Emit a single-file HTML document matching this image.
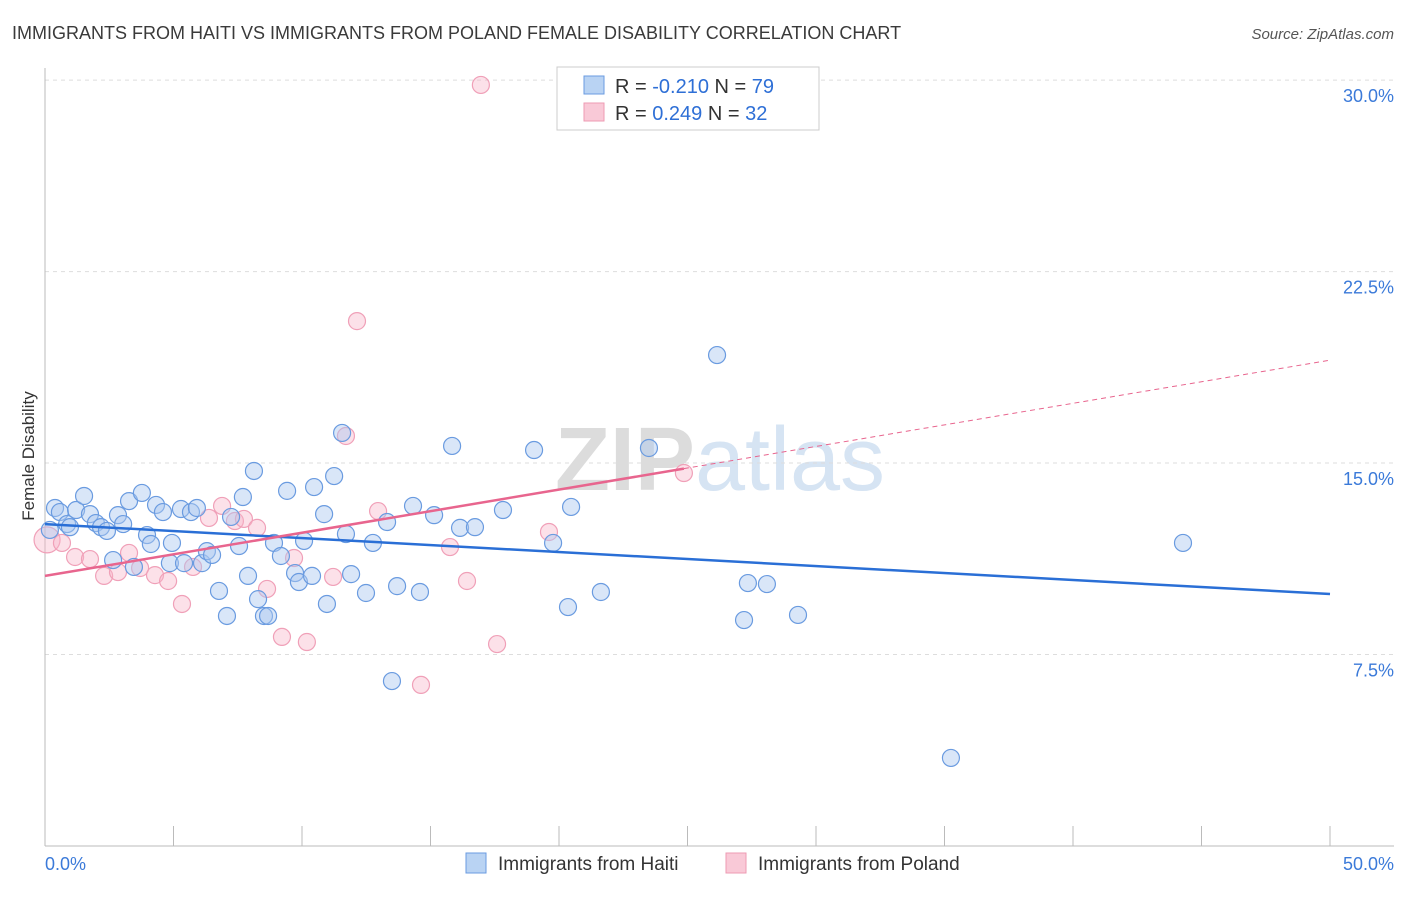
<!DOCTYPE html>
<html><head><meta charset="utf-8"><style>
body{margin:0;background:#fff;font-family:"Liberation Sans",sans-serif}
svg text{font-family:"Liberation Sans",sans-serif}
</style></head><body>
<svg id="c" width="1406" height="892" xmlns="http://www.w3.org/2000/svg">
<text x="12" y="39" font-size="18" fill="#3a3a3a">IMMIGRANTS FROM HAITI VS IMMIGRANTS FROM POLAND FEMALE DISABILITY CORRELATION CHART</text>
<text x="1394" y="39" font-size="15" fill="#555" font-style="italic" text-anchor="end">Source: ZipAtlas.com</text>
<text x="34" y="456" font-size="17" fill="#333" text-anchor="middle" transform="rotate(-90 34 456)">Female Disability</text>
<text x="720" y="490" font-size="90" fill="#e4e4e4" text-anchor="middle" font-family="Liberation Serif"><tspan font-weight="bold" fill="#dcdcdc">ZIP</tspan><tspan fill="#d6e4f3" font-family="Liberation Sans">atlas</tspan></text>
<g id="grid"></g><g id="axes"></g><g id="pts"></g><g id="lines"></g>
<g>
<rect x="557" y="67" width="262" height="63" fill="#fff" stroke="#ccc"/>
<rect x="584" y="76" width="20" height="18" fill="#b9d3f3" stroke="#6a9be0"/>
<rect x="584" y="103" width="20" height="18" fill="#f9c9d7" stroke="#ee9bb3"/>
<text x="615" y="93" font-size="20" fill="#333">R = <tspan fill="#2e6fd6">-0.210</tspan>   N = <tspan fill="#2e6fd6">79</tspan></text>
<text x="615" y="120" font-size="20" fill="#333">R =  <tspan fill="#2e6fd6">0.249</tspan>   N = <tspan fill="#2e6fd6">32</tspan></text>
</g>
<g>
<rect x="466" y="853" width="20" height="20" fill="#b9d3f3" stroke="#6a9be0"/>
<text x="498" y="870" font-size="19" fill="#333">Immigrants from Haiti</text>
<rect x="726" y="853" width="20" height="20" fill="#f9c9d7" stroke="#ee9bb3"/>
<text x="758" y="870" font-size="19" fill="#333">Immigrants from Poland</text>
</g>
</svg>
<script>
const yTicks=[7.5,15.0,22.5,30.0];
const yTickLabels=["7.5%","15.0%","22.5%","30.0%"];
const xTickLabels=["0.0%","50.0%"];
const haitiX=[0.39,0.58,0.86,0.97,1.21,1.52,1.75,1.98,2.18,2.41,2.65,2.84,3.04,3.27,3.46,3.77,3.97,4.12,4.32,4.59,4.94,4.86,5.29,5.41,5.68,5.91,6.11,6.30,6.50,6.77,7.08,7.24,7.55,7.70,7.90,8.13,8.29,8.52,8.68,8.91,9.18,9.42,9.73,9.88,10.08,10.39,10.47,10.86,10.97,11.25,11.56,11.71,11.91,12.49,12.76,13.31,13.50,13.70,14.32,14.59,15.14,15.84,16.15,16.73,17.82,19.03,19.77,20.35,20.47,21.63,23.50,26.15,27.20,27.35,28.09,29.30,35.25,44.28,0.19];
const haitiY=[13.24,13.08,12.61,12.49,13.16,13.71,13.00,12.65,12.49,12.34,11.20,12.96,12.61,13.51,10.93,13.83,12.18,11.83,13.36,13.08,11.87,11.08,13.20,11.08,13.08,13.24,11.08,11.55,11.40,9.99,9.01,12.89,11.75,13.67,10.58,14.69,9.67,9.01,9.01,11.87,11.36,13.91,10.69,10.34,11.95,10.58,14.06,13.00,9.48,14.49,16.18,12.22,10.65,9.91,11.87,12.69,6.46,10.18,13.32,9.95,12.96,15.67,12.46,12.49,13.16,15.51,11.87,9.36,13.28,9.95,15.59,19.23,8.85,10.30,10.26,9.05,3.45,11.87,12.38];
const polandX=[0.08,0.66,1.17,1.75,2.30,2.84,3.27,3.70,4.28,4.79,5.33,5.76,6.38,6.89,7.39,7.74,8.25,8.64,9.22,9.69,10.19,11.21,11.71,12.14,12.96,14.63,15.76,16.42,16.96,17.59,19.61,24.86];
const polandY=[11.99,11.87,11.32,11.24,10.58,10.73,11.48,10.89,10.61,10.38,9.48,10.93,12.85,13.32,12.73,12.81,12.46,10.07,8.19,11.28,7.99,10.54,16.06,20.56,13.12,6.31,11.71,10.38,29.81,7.91,12.30,14.61];
const haitiTrend=[12.61,9.87];
const polandTrend=[10.58,19.03];
const polandSolidEnd=24.86;
const X=v=>45+v/50*1285, Y=v=>846-v*25.53;
const NS="http://www.w3.org/2000/svg";
function mk(p,t,a){const e=document.createElementNS(NS,t);for(const k in a)e.setAttribute(k,a[k]);p.appendChild(e);return e;}
const g=document.getElementById('grid'),ax=document.getElementById('axes'),pts=document.getElementById('pts'),ln=document.getElementById('lines');
yTicks.forEach((t,i)=>{
 const l=mk(g,'line',{x1:45,x2:1394,y1:Y(t),y2:Y(t),stroke:'#ddd','stroke-dasharray':'4,4'});
 
 
 const tx=mk(g,'text',{x:1394,y:Y(t)+22,'font-size':18,fill:'#3b7ad9','text-anchor':'end'});
 tx.textContent=yTickLabels[i];
 
 
});
const a1=mk(ax,'line',{x1:45,x2:45,y1:68,y2:846,stroke:'#bbb'});


const a2=mk(ax,'line',{x1:45,x2:1394,y1:846,y2:846,stroke:'#bbb'});


for(let i=1;i<=10;i++){const t=mk(ax,'line',{x1:X(i*5),x2:X(i*5),y1:826,y2:846,stroke:'#bbb'});
 
 }
[[0,'start',45],[1,'end',1394]].forEach(([i,an,x])=>{const t=mk(ax,'text',{x:x,y:870,'font-size':18,fill:'#3b7ad9','text-anchor':an});t.textContent=xTickLabels[i];
 
 });
polandX.forEach((x,i)=>{const c=mk(pts,'circle',{cx:X(x),cy:Y(polandY[i]),r:i==0?13:8.5,fill:'rgba(248,180,200,0.4)',stroke:'#f0a0b8','stroke-width':1.2});
 
 });
haitiX.forEach((x,i)=>{const c=mk(pts,'circle',{cx:X(x),cy:Y(haitiY[i]),r:8.5,fill:'rgba(170,200,240,0.45)',stroke:'#6a9be0','stroke-width':1.2});
 
 });
const py=v=>polandTrend[0]+(polandTrend[1]-polandTrend[0])*v/50;
const l1=mk(ln,'line',{x1:X(0),y1:Y(haitiTrend[0]),x2:X(50),y2:Y(haitiTrend[1]),stroke:'#2a6fd6','stroke-width':2.5});


const l2=mk(ln,'line',{x1:X(0),y1:Y(py(0)),x2:X(polandSolidEnd),y2:Y(py(polandSolidEnd)),stroke:'#e8658e','stroke-width':2.5});


const l3=mk(ln,'line',{x1:X(polandSolidEnd),y1:Y(py(polandSolidEnd)),x2:X(50),y2:Y(py(50)),stroke:'#e8658e','stroke-width':1,'stroke-dasharray':'5,4'});


</script>
</body></html>
